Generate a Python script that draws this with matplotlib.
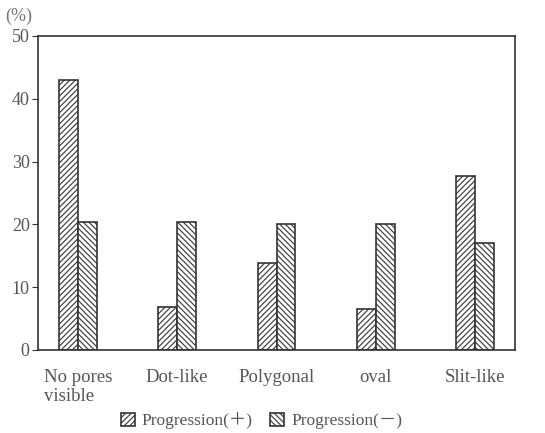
import matplotlib
matplotlib.use("Agg")
import matplotlib.pyplot as plt
import numpy as np

categories = ["No pores\nvisible", "Dot-like", "Polygonal", "oval", "Slit-like"]
prog_plus = [43.0, 6.8, 13.9, 6.6, 27.7]
prog_minus = [20.4, 20.4, 20.1, 20.0, 17.0]
series_labels = ["Progression(＋)", "Progression(－)"]
yticks = [0, 10, 20, 30, 40, 50]

plt.rcParams['font.family'] = ['Liberation Serif', 'Noto Sans CJK JP', 'DejaVu Serif']
plt.rcParams['hatch.linewidth'] = 0.8
textc = '#555555'
edgec = '#333333'

fig = plt.figure(figsize=(5.45, 4.33), dpi=100)
ax = fig.add_axes([0.0697, 0.1917, 0.8753, 0.7253])

x = np.arange(len(categories))
w = 0.19
ax.bar(x - w/2, prog_plus, w, facecolor='white', edgecolor=edgec, hatch='//////', linewidth=1.2, label=series_labels[0])
ax.bar(x + w/2, prog_minus, w, facecolor='white', edgecolor=edgec, hatch='\\\\\\\\\\\\', linewidth=1.2, label=series_labels[1])

ax.set_xlim(-0.40, 4.40)
ax.set_ylim(0, 50)
ax.set_yticks(yticks)
ax.set_yticklabels([str(t) for t in yticks], fontsize=13, color=textc)
ax.set_xticks(x)
ax.set_xticklabels(categories, fontsize=13.5, color=textc, multialignment='left', linespacing=1.1)
ax.tick_params(axis='x', length=0, pad=14)
ax.tick_params(axis='y', length=4, direction='out', color=edgec, pad=2)
for s in ax.spines.values():
    s.set_color(edgec)
    s.set_linewidth(1.2)

ax.text(-0.04, 1.035, "(%)", transform=ax.transAxes, fontsize=13, color='#777777', ha='center', va='bottom')

leg = fig.legend(loc='lower center', bbox_to_anchor=(0.48, -0.028), ncol=2, frameon=False,
                 fontsize=12.5, handlelength=0.8, handleheight=0.8, handletextpad=0.4, columnspacing=1.0)
for t in leg.get_texts():
    t.set_color(textc)

fig.savefig("out.png", dpi=100)
